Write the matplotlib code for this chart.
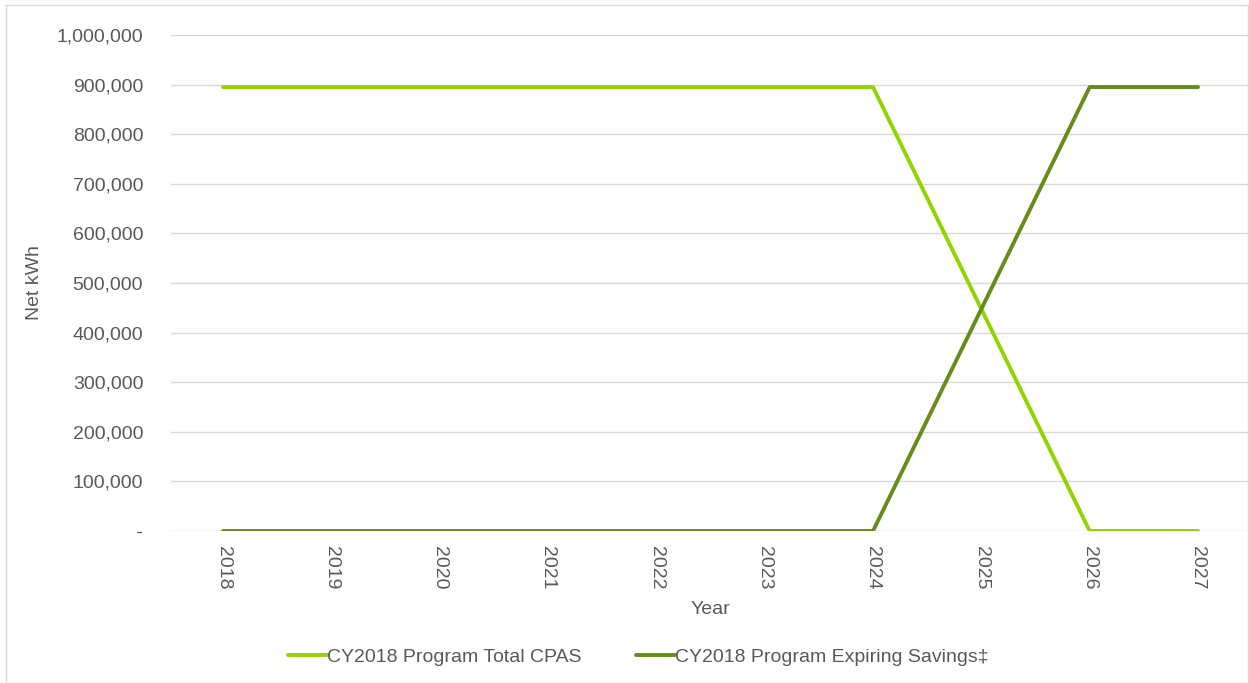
import matplotlib
matplotlib.use("Agg")
import matplotlib.pyplot as plt
from matplotlib.ticker import FuncFormatter
from matplotlib.patches import Rectangle
from matplotlib import font_manager

years = ["2018", "2019", "2020", "2021", "2022", "2023", "2024", "2025", "2026", "2027"]
total_cpas = [895000, 895000, 895000, 895000, 895000, 895000, 895000, 447500, 0, 0]
expiring = [0, 0, 0, 0, 0, 0, 0, 447500, 895000, 895000]
series_names = ["CY2018 Program Total CPAS", "CY2018 Program Expiring Savings\u2021"]
y_ticks = [0, 100000, 200000, 300000, 400000, 500000, 600000, 700000, 800000, 900000, 1000000]

names = {f.name for f in font_manager.fontManager.ttflist}
fam = "Liberation Sans Narrow" if "Liberation Sans Narrow" in names else "Liberation Sans"
plt.rcParams['font.family'] = [fam, 'DejaVu Sans']
txt = "#595959"
fs = 14

W, H = 1249, 683
fig = plt.figure(figsize=(W/100, H/100), dpi=100)
fig.patches.append(Rectangle((6/W, 0), 1 - 6/W - 0.0005, 1 - 5/H, transform=fig.transFigure,
                             fill=False, edgecolor="#d9d9d9", linewidth=1))
ax = fig.add_axes([171/W, 1 - 531/H, (1250-171)/W, (531-35)/H])
x = list(range(len(years)))
ax.plot(x, total_cpas, color="#92d400", lw=2.8, solid_capstyle="round", label=series_names[0], zorder=3)
ax.plot(x, expiring, color="#658d1b", lw=2.8, solid_capstyle="round", label=series_names[1], zorder=3)
ax.set_xlim(-0.48, len(years) - 0.52)
ax.set_ylim(0, 1000000)
ax.set_yticks(y_ticks)
ax.yaxis.set_major_formatter(FuncFormatter(lambda v, p: " -" if v == 0 else f"{int(v):,}"))
ax.set_xticks(x)
ax.set_xticklabels(years, rotation=270, fontsize=fs, color=txt)
ax.tick_params(axis='y', labelsize=fs, labelcolor=txt, length=0, pad=20)
ax.tick_params(axis='x', length=0, pad=11)
ax.grid(axis='y', color="#d9d9d9", lw=1)
ax.set_axisbelow(True)
for s in ax.spines.values():
    s.set_visible(False)
ax.set_xlabel("Year", fontsize=fs, color=txt, labelpad=8)
ax.set_ylabel("Net kWh", fontsize=fs, color=txt)
ax.yaxis.set_label_coords(-128 / (1250-171), 0.5)
leg = fig.legend(loc="center", bbox_to_anchor=(638/W, 1 - 657/H), ncol=2, frameon=False,
                 fontsize=fs, handlelength=2.0, handletextpad=0.0, columnspacing=2.8)
for t in leg.get_texts():
    t.set_color(txt)
fig.savefig("out.png", dpi=100)
